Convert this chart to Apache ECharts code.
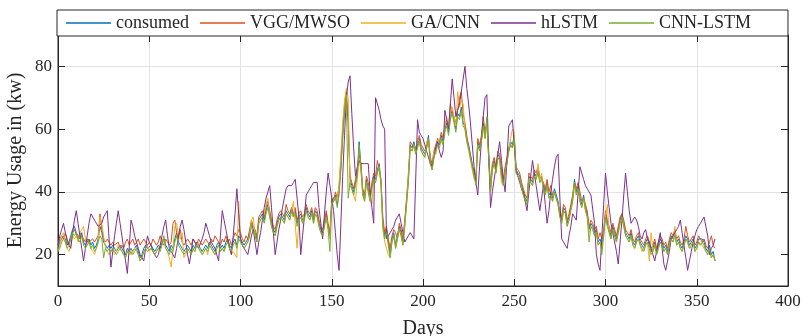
<!DOCTYPE html>
<html>
<head>
<meta charset="utf-8">
<script src="https://cdn.jsdelivr.net/npm/echarts@6.0.0/dist/echarts.min.js"></script>
<style>
  html, body { margin: 0; padding: 0; background: #fff; }
  #myChart { width: 802px; height: 336px; }
</style>
</head>
<body>
<div id="myChart"></div>
<script>
  const seriesNames = ['consumed', 'VGG/MWSO', 'GA/CNN', 'hLSTM', 'CNN-LSTM']
  const xTicks = [0, 50, 100, 150, 200, 250, 300, 350, 400]
  const yTicks = [20, 40, 60, 80]

  // one value per day, day 0 .. 360
  const consumed = [
    22,24,25,26,25,23,24,26,28,29, 27,26,25,27,24,23,24,25,23,24,
    22,23,25,29,27,24,23,22,23,22, 23,22,21,22,23,22,21,20,22,21,
    22,21,22,23,21,19,20,22,23,22, 22,23,22,21,22,23,22,24,25,23,
    22,21,23,22,25,27,24,23,22,21, 22,23,22,21,23,22,24,23,22,21,
    22,23,22,24,23,22,21,23,24,22, 23,22,24,25,23,22,24,25,23,26,
    26,24,23,24,25,27,30,28,27,25, 31,32,33,31,34,36,33,30,28,27,
    30,32,33,32,31,34,33,32,35,33, 34,30,32,33,31,32,35,33,32,34,
    31,34,33,30,28,27,30,33,29,26, 37,38,39,36,40,48,58,66,70,62,
    44,42,40,43,46,56,48,40,38,44, 41,38,42,45,44,47,49,43,30,26,
    28,24,20,25,27,23,26,29,27,24, 30,37,44,55,54,56,53,55,57,54,
    53,52,55,58,50,48,52,54,56,55, 58,56,60,62,59,64,66,63,60,65,
    64,67,62,61,57,55,52,49,46,44, 56,54,57,62,58,63,52,41,48,50,
    47,52,51,46,43,47,50,54,56,55, 58,47,46,45,42,40,38,37,45,44,
    43,46,45,47,44,45,42,40,43,39, 40,38,41,39,37,33,31,35,34,30,
    32,35,38,44,40,42,38,36,39,35, 33,28,30,29,27,28,24,25,23,27,
    33,30,28,26,29,27,25,28,31,33, 30,27,26,25,27,24,23,25,26,24,
    23,22,24,25,23,21,22,24,21,23, 25,24,22,23,21,24,26,25,27,24,
    25,23,22,24,26,25,23,24,25,22, 23,25,25,25,24,22,21,23,20,21,
    18
  ]
  const vggMwso = [
    23,25,26,25,27,24,23,25,27,28, 28,25,27,26,25,24,25,24,24,25,
    24,24,26,33,28,25,24,25,24,23, 24,23,23,24,22,23,22,24,25,23,
    24,25,23,24,25,23,24,25,24,23, 24,23,25,24,23,24,26,24,23,25,
    24,23,24,30,31,27,25,28,24,23, 24,25,24,23,25,24,23,25,24,23,
    24,25,24,23,25,24,26,25,24,23, 25,24,26,24,25,23,25,27,26,28,
    27,25,24,26,25,28,31,29,28,26, 32,33,34,32,35,37,34,31,29,28,
    31,33,34,33,32,36,34,33,35,32, 35,31,33,34,32,33,36,34,33,35,
    32,35,34,31,29,28,31,34,30,27, 38,37,40,38,42,50,60,68,72,64,
    45,43,41,44,47,52,49,41,39,45, 43,39,43,46,45,50,47,44,32,27,
    29,25,22,26,28,27,25,30,28,25, 31,38,46,56,55,55,54,56,58,55,
    54,53,54,57,51,49,53,55,57,56, 59,57,61,63,60,68,65,64,62,66,
    70,72,65,62,58,54,51,48,47,43, 57,55,58,64,59,61,51,42,49,51,
    48,53,52,47,44,48,51,53,55,54, 57,48,47,46,43,41,39,38,46,45,
    44,47,46,48,45,44,43,41,44,40, 42,39,40,38,38,34,32,36,35,31,
    33,36,39,43,41,43,40,37,38,36, 34,29,31,30,28,29,25,27,25,28,
    34,31,29,27,30,28,26,29,32,33, 31,28,27,26,28,25,24,26,27,25,
    24,23,25,26,24,22,23,25,22,24, 26,25,23,24,22,25,27,26,28,25,
    26,24,23,25,29,26,24,25,26,23, 24,26,25,24,25,23,22,24,26,23,
    22
  ]
  const gaCnn = [
    21,23,26,27,24,22,21,23,26,25, 26,24,27,28,29,25,23,24,22,21,
    20,22,24,32,30,26,22,21,20,21, 22,20,21,23,22,21,20,19,21,22,
    20,21,22,21,20,18,19,21,22,23, 21,22,21,20,21,22,23,25,24,22,
    21,19,16,22,29,30,26,25,27,19, 20,22,21,20,22,21,23,24,21,20,
    21,22,20,23,22,21,20,22,23,21, 22,21,23,24,22,20,21,20,19,37,
    24,23,22,23,24,26,31,32,26,24, 30,31,32,33,36,38,32,29,27,26,
    29,31,32,31,30,33,32,31,34,37, 37,22,31,32,30,33,34,32,31,33,
    30,33,32,29,27,26,29,32,28,25, 36,37,38,37,42,52,62,69,73,70,
    42,41,39,37,44,50,47,39,37,43, 40,37,36,44,43,46,48,42,28,24,
    22,20,19,24,26,22,25,28,26,23, 29,36,45,54,53,55,52,57,56,53,
    52,51,56,57,49,47,53,52,55,57, 57,55,61,64,60,65,67,64,61,72,
    67,69,68,60,56,53,50,47,44,45, 55,53,56,61,57,62,50,40,47,49,
    46,51,50,43,42,46,49,53,57,60, 59,46,45,44,41,39,37,36,44,43,
    42,45,44,49,43,46,41,39,42,38, 39,37,40,38,36,32,30,34,33,29,
    31,34,37,42,39,41,37,35,38,34, 32,27,29,28,26,27,23,24,22,26,
    32,36,27,25,28,26,24,27,30,32, 29,26,25,24,26,23,22,24,25,23,
    21,22,23,24,18,27,21,23,20,22, 24,23,21,22,20,23,25,24,29,23,
    24,22,21,23,25,24,22,23,24,21, 22,24,24,23,23,21,20,22,19,20,
    18
  ]
  const hLstm = [
    23,26,28,30,27,25,23,22,27,31, 34,30,26,22,18,22,26,30,33,32,
    31,30,29,29,30,32,33,34,25,16, 21,26,30,34,30,26,22,18,14,22,
    31,29,26,24,22,20,19,18,22,26, 24,23,21,20,19,20,23,26,29,31,
    26,22,21,20,19,22,26,29,31,28, 24,20,17,21,25,24,23,22,22,25,
    27,30,28,26,24,23,22,20,18,26, 34,31,28,25,22,20,26,33,41,33,
    25,23,22,21,20,23,26,28,24,20, 24,27,31,35,38,40,42,35,27,20,
    24,28,31,35,38,41,42,42,42,43, 44,44,32,20,26,32,39,40,41,42,
    43,43,43,35,30,25,33,40,46,42, 38,34,27,20,15,30,45,58,70,75,
    77,65,54,45,48,50,49,49,49,49, 49,40,35,30,70,68,66,63,61,60,
    25,26,27,28,29,31,32,33,30,27, 24,25,26,27,26,25,25,63,59,58,
    57,55,53,51,49,48,51,54,56,53, 51,53,66,63,60,68,76,70,64,66,
    68,72,76,80,73,68,62,55,48,43, 39,48,56,64,70,71,52,35,40,44,
    48,52,56,50,44,40,50,61,62,63, 63,47,45,43,41,40,37,34,40,45,
    50,46,42,38,34,38,42,36,30,34, 40,44,48,51,52,38,25,24,23,22,
    26,29,33,32,31,40,48,46,44,42, 41,40,39,39,30,20,17,15,26,36,
    46,40,35,30,27,24,21,17,24,31, 39,46,40,34,30,31,32,31,29,26,
    25,27,28,25,24,22,20,18,21,24, 27,22,17,15,18,21,25,26,27,28,
    29,31,27,23,19,15,18,21,24,26, 28,29,30,31,32,32,26,20,22,23,
    25
  ]
  const cnnLstm = [
    21,22,24,25,24,22,23,25,27,26, 27,25,24,26,23,22,23,24,22,23,
    21,22,24,26,25,19,22,21,22,21, 22,21,20,21,22,21,20,19,21,20,
    21,20,21,22,20,18,19,21,22,21, 21,22,21,20,21,22,21,23,26,22,
    21,20,22,21,24,26,23,22,21,20, 21,22,21,20,22,21,23,22,21,20,
    21,22,21,23,22,21,20,22,23,21, 22,21,23,24,22,21,23,24,22,25,
    25,23,22,23,24,26,29,27,26,24, 30,31,32,30,33,35,32,29,27,26,
    29,31,32,31,30,33,32,31,34,32, 33,29,31,32,30,31,34,32,31,33,
    30,33,32,29,27,26,29,32,28,21, 36,37,38,35,39,47,57,65,71,38,
    43,41,39,42,45,55,47,39,37,43, 40,37,41,44,43,46,48,42,29,25,
    27,23,19,24,26,22,25,28,26,23, 29,36,43,54,53,55,52,54,56,53,
    52,51,54,57,49,47,51,53,55,54, 57,55,59,61,58,63,65,62,59,64,
    63,66,61,60,56,54,51,48,45,42, 55,53,56,61,57,64,51,40,47,49,
    46,51,50,45,42,46,49,53,55,54, 57,46,45,44,41,39,37,36,44,43,
    42,45,44,46,43,44,41,39,42,38, 39,37,40,38,36,32,30,34,33,29,
    31,34,37,43,39,41,37,35,38,34, 32,24,29,28,26,27,23,24,20,26,
    32,29,27,25,28,26,24,27,30,32, 29,26,25,24,26,23,22,24,25,23,
    22,21,23,24,22,20,21,23,20,22, 24,23,21,22,20,23,25,24,26,23,
    24,22,21,23,25,24,22,23,24,21, 22,24,23,24,23,21,20,22,19,20,
    18
  ]

  const colors = ['#0072BD', '#D95319', '#EDB120', '#7E2F8E', '#77AC30']
  const allValues = [consumed, vggMwso, gaCnn, hLstm, cnnLstm]
  const font = 'Liberation Serif'
  const ink = '#262626'

  const myChart = echarts.init(document.getElementById('myChart'))

  myChart.setOption({
    animation: false,
    color: colors,
    textStyle: { fontFamily: font, color: ink },
    legend: {
      data: seriesNames,
      icon: 'rect',
      left: 57,
      top: 10,
      padding: [4, 37, 4, 9],
      itemWidth: 45,
      itemHeight: 1.5,
      itemGap: 11,
      backgroundColor: '#fff',
      borderColor: ink,
      borderWidth: 1,
      borderRadius: 0,
      textStyle: { fontFamily: font, fontSize: 18, color: ink },
      z: 10
    },
    grid: {
      left: 58,
      right: 14,
      top: 35,
      bottom: 50,
      outerBoundsMode: 'none',
      show: true,
      borderColor: ink,
      borderWidth: 1
    },
    xAxis: [
      {
        type: 'value',
        min: 0,
        max: 400,
        interval: 50,
        name: 'Days',
        nameLocation: 'middle',
        nameGap: 33,
        nameMoveOverlap: false,
        nameTextStyle: { fontFamily: font, fontSize: 20, color: ink },
        axisLine: { show: true, onZero: false, lineStyle: { color: ink } },
        axisTick: { inside: true, length: 7, lineStyle: { color: ink } },
        axisLabel: { fontFamily: font, fontSize: 17, color: ink, margin: 7, customValues: xTicks },
        splitLine: { show: true, lineStyle: { color: '#e3e3e3' } }
      },
      {
        type: 'value',
        position: 'top',
        min: 0,
        max: 400,
        interval: 50,
        axisLine: { show: true, onZero: false, lineStyle: { color: ink } },
        axisTick: { inside: true, length: 7, lineStyle: { color: ink } },
        axisLabel: { show: false },
        splitLine: { show: false }
      }
    ],
    yAxis: [
      {
        type: 'value',
        min: 10,
        max: 90,
        interval: 10,
        name: 'Energy Usage in (kw)',
        nameLocation: 'middle',
        nameGap: 32,
        nameMoveOverlap: false,
        nameTextStyle: { fontFamily: font, fontSize: 20, color: ink },
        axisLine: { show: true, onZero: false, lineStyle: { color: ink } },
        axisTick: { inside: true, length: 7, lineStyle: { color: ink }, customValues: yTicks },
        axisLabel: { fontFamily: font, fontSize: 17, color: ink, margin: 6, customValues: yTicks },
        splitLine: { show: true, lineStyle: { color: ['rgba(0,0,0,0)', '#e3e3e3'] } }
      },
      {
        type: 'value',
        position: 'right',
        min: 10,
        max: 90,
        interval: 10,
        axisLine: { show: true, onZero: false, lineStyle: { color: ink } },
        axisTick: { inside: true, length: 7, lineStyle: { color: ink }, customValues: yTicks },
        axisLabel: { show: false },
        splitLine: { show: false }
      }
    ],
    series: seriesNames.map((name, i) => ({
      name: name,
      type: 'line',
      symbol: 'none',
      xAxisIndex: 0,
      yAxisIndex: 0,
      data: allValues[i].map((v, day) => [day, v]),
      lineStyle: { width: 1, color: colors[i] },
      itemStyle: { color: colors[i] },
      z: 2 + i
    }))
  })
</script>
</body>
</html>
